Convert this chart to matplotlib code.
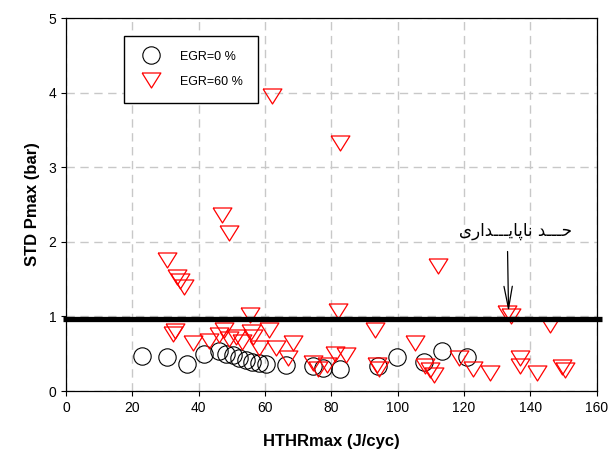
import numpy as np
import matplotlib
matplotlib.use("Agg")
import matplotlib.pyplot as plt

# EGR = 0 %
x_egr0 = [22.8, 30.5, 36.4, 41.6, 46.2, 48.2, 50.2, 52.2, 54.2, 56.2, 58.2,
          60.2, 66.3, 74.5, 77.5, 82.5, 94.0, 99.7, 108.0, 113.2, 121.0]
y_egr0 = [0.47, 0.45, 0.36, 0.49, 0.53, 0.50, 0.48, 0.44, 0.42, 0.39, 0.37,
          0.36, 0.35, 0.33, 0.31, 0.29, 0.33, 0.45, 0.39, 0.53, 0.46]

# EGR = 60 %
x_egr60 = [62.0, 82.5, 47.0, 49.0, 30.5, 33.5, 34.5, 35.5, 112.0,
           55.6, 82.0, 133.0, 134.0, 145.8, 93.2, 105.3,
           32.2, 32.8, 38.3, 43.0, 46.2, 47.7, 49.2, 51.2, 53.2, 55.8, 56.3,
           61.3, 58.3, 63.3, 68.4, 66.9,
           74.5, 76.0, 78.6, 81.0, 84.5, 93.6, 94.2,
           108.3, 109.8, 110.8, 118.6, 122.7, 127.8, 136.8, 136.8, 141.9,
           149.5, 150.5]
y_egr60 = [3.95, 3.33, 2.36, 2.12, 1.76, 1.53, 1.47, 1.40, 1.67,
           1.02, 1.07, 1.04, 1.00, 0.89, 0.82, 0.64,
           0.76, 0.80, 0.65, 0.67, 0.75, 0.82, 0.70, 0.73, 0.66, 0.79, 0.73,
           0.82, 0.57, 0.57, 0.64, 0.44,
           0.37, 0.30, 0.35, 0.50, 0.48, 0.35, 0.30,
           0.33, 0.28, 0.22, 0.44, 0.30, 0.24, 0.44, 0.33, 0.24,
           0.32, 0.28]

stability_limit = 0.96
x_ticks = [0, 20, 40, 60, 80, 100, 120, 140, 160]
y_ticks = [0, 1, 2, 3, 4, 5]

# "حد ناپایداری" in presentation forms, visual (left to right) order
label_fa = ("\uFEEF\uFEAD\uFE8D\uFEAA\u0640\u0640\u0640\uFEF3\uFE8E\uFB58"
            "\uFE8E\uFEE7 \uFEAA\u0640\u0640\u0640\uFEA3")

plt.rcParams['font.family'] = ['Liberation Sans', 'DejaVu Sans']

fig = plt.figure(figsize=(6.14, 4.57), dpi=100)
ax = fig.add_axes([0.1075, 0.1444, 0.8645, 0.8162])

# flat, slightly squat down-pointing triangle (closed)
tri = [(-1, 0.8), (1, 0.8), (0, -0.8), (-1, 0.8)]

ax.plot(x_egr0, y_egr0, linestyle='none', marker='o', ms=12.5,
        mfc='none', mec='black', mew=0.8, label='EGR=0 %')
ax.plot(x_egr60, y_egr60, linestyle='none', marker=tri, ms=13.5,
        mfc='none', mec='red', mew=0.9, label='EGR=60 %')

ax.plot([-0.8, 161.5], [stability_limit, stability_limit], color='black',
        lw=3.8, clip_on=False, solid_capstyle='butt')

ax.set_xlim(0, 160)
ax.set_ylim(0, 5)
ax.set_xticks(x_ticks)
ax.set_yticks(y_ticks)
ax.tick_params(direction='out', length=3.5, width=0.8, labelsize=10)
ax.grid(True, color='#c8c8c8', linestyle=(0, (6, 4)), lw=1)
ax.set_axisbelow(True)
for s in ax.spines.values():
    s.set_linewidth(0.9)

ax.set_xlabel('HTHRmax (J/cyc)', fontsize=12, fontweight='bold', labelpad=14)
ax.set_ylabel('STD Pmax (bar)', fontsize=12, fontweight='bold', labelpad=6)

leg = ax.legend(loc='upper left', bbox_to_anchor=(0.109, 0.953), fontsize=9,
                fancybox=False, framealpha=1, edgecolor='black',
                borderpad=1.2, labelspacing=1.05, handletextpad=1.3,
                borderaxespad=0)
leg.get_frame().set_linewidth(1.0)

ax.text(135.5, 2.15, label_fa, ha='center', va='center', fontsize=12,
        family=['DejaVu Sans'])
ax.annotate('', xy=(133.4, 1.06), xytext=(133.1, 1.87),
            arrowprops=dict(arrowstyle='->,head_length=1.6,head_width=0.3',
                            color='black', lw=0.9, shrinkA=0, shrinkB=0))

fig.savefig('out.png', dpi=100)
